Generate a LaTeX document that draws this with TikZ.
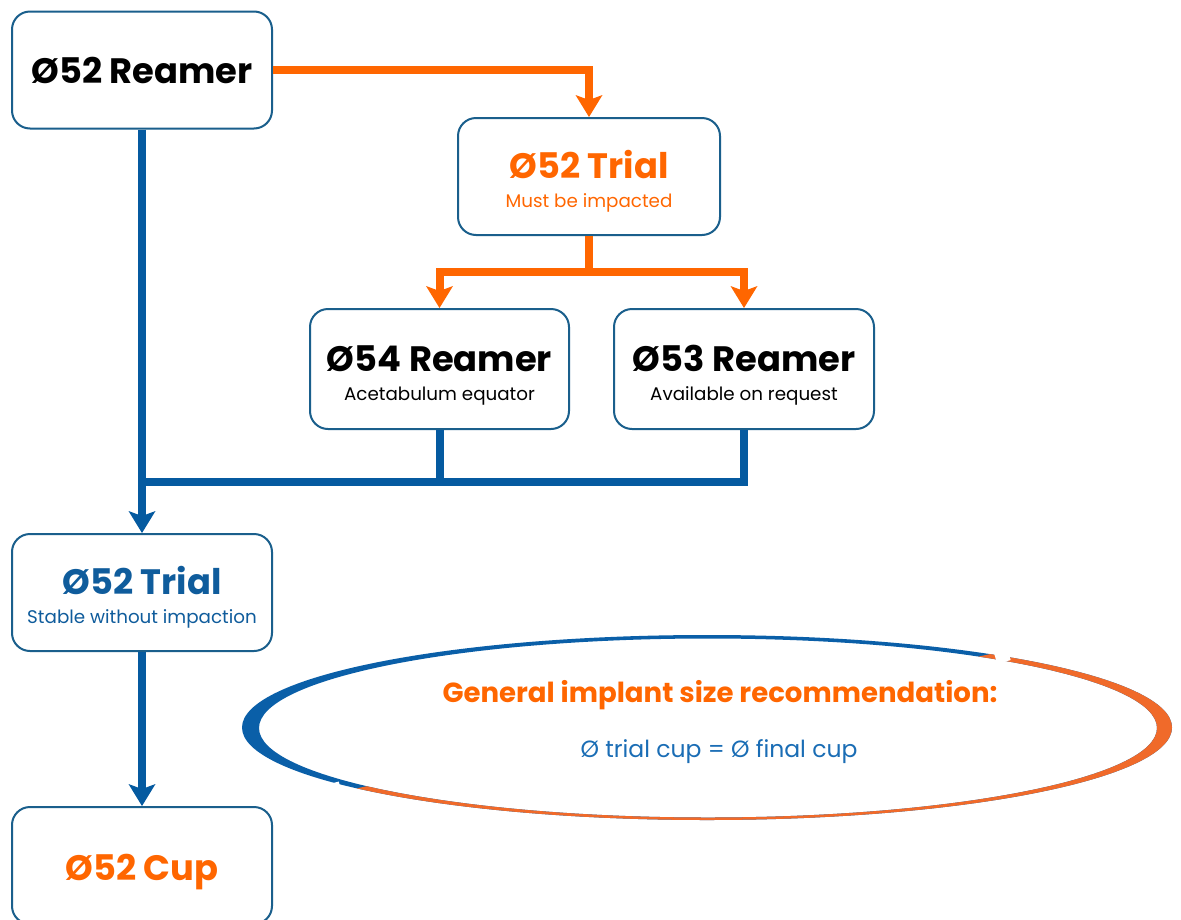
\documentclass[tikz,border=0pt]{standalone}
\usepackage{fontspec}
\setmainfont{Poppins}
\usetikzlibrary{arrows.meta}
\definecolor{boxblue}{HTML}{1A5F8C}
\definecolor{lblue}{HTML}{055AA0}
\definecolor{tblue}{HTML}{0F5C9C}
\definecolor{sblue}{HTML}{1A6DB5}
\definecolor{lorange}{HTML}{FF6600}
\definecolor{eblue}{HTML}{0A5FA8}
\definecolor{eorange}{HTML}{F06A2A}
\tikzset{
  x=1pt, y=-1pt,
  box/.style={draw=boxblue, line width=2pt, fill=white, rounded corners=18pt,
    minimum width=260pt, minimum height=117pt, inner sep=0pt},
  tip/.style={-{Stealth[length=22pt,width=27pt,inset=5pt,line width=0pt]}},
  oline/.style={draw=lorange, line width=8pt},
  bline/.style={draw=lblue, line width=8pt},
  title/.style={font=\fontsize{35.3}{40}\selectfont\bfseries, anchor=base},
  sub/.style={font=\fontsize{18.3}{21}\selectfont, anchor=base},
}
\begin{document}
\begin{tikzpicture}
\useasboundingbox (0,0) rectangle (1181,919);
\fill[white] (0,0) rectangle (1181,919);

% boxes
\node[box] (r52) at (142,70) {};
\node[box, minimum width=262pt] (t52o) at (589,176.5) {};
\node[box, minimum width=259pt, minimum height=120pt] (r54) at (439.5,369) {};
\node[box, minimum height=120pt] (r53) at (744,369) {};
\node[box] (t52b) at (142,592.5) {};
\node[box] (cup) at (142,865.5) {};

% texts
\node[title] (r52t) at (142,83) {Ø52 Reamer};
\node[title, text=lorange] (t52ot) at (589,178) {Ø52 Trial};
\node[sub, text=lorange] (t52os) at (589,207) {Must be impacted};
\node[title] (r54t) at (439.5,371) {Ø54 Reamer};
\node[sub] (r54s) at (439.5,400) {Acetabulum equator};
\node[title] (r53t) at (744,371) {Ø53 Reamer};
\node[sub] (r53s) at (744,400) {Available on request};
\node[title, text=tblue] (t52bt) at (142,594) {Ø52 Trial};
\node[sub, text=tblue] (t52bs) at (142,623) {Stable without impaction};
\node[title, text=lorange] (cupt) at (142,880) {Ø52 Cup};

% orange connectors
\coordinate (ob) at (589,272);
\draw[oline, tip] (r52.east) -- (r52.east -| t52o.north) -- (t52o.north);
\draw[oline, tip] (t52o.south) -- (ob) -| (r54.north);
\draw[oline, tip] (ob) -| (r53.north);

% blue connectors
\coordinate (jl) at (142,482);
\draw[bline, tip] (r52.south) -- (t52b.north);
\draw[bline] (r53.south) |- (jl);
\draw[bline] (r54.south) -- (r54.south |- jl);
\draw[bline, tip] (t52b.south) -- (cup.north);

% ellipse crescent
\fill[eblue, even odd rule] (707,727.5) ellipse (465 and 92.5) (708,728) ellipse (449 and 89.5);
\begin{scope}
  \clip (2.5,863.5) -- (1332.5,581.5) -- (1332.5,1000) -- (2.5,1000) -- cycle;
  \fill[eorange, even odd rule] (707,727.5) ellipse (465 and 92.5) (708,728) ellipse (449 and 89.5);
\end{scope}
% soft gaps where the two colours meet
\draw[white, line width=14pt] (998,642) -- (1004,662);
\draw[white, line width=12pt] (333,783) -- (338,803);
\node[font=\fontsize{27.6}{32}\selectfont\bfseries, text=lorange, anchor=base] (gen) at (720,702) {General implant size recommendation:};
\node[font=\fontsize{23.5}{28}\selectfont, text=sblue, anchor=base] (eq) at (719,757) {Ø trial cup = Ø final cup};
\end{tikzpicture}
\end{document}
